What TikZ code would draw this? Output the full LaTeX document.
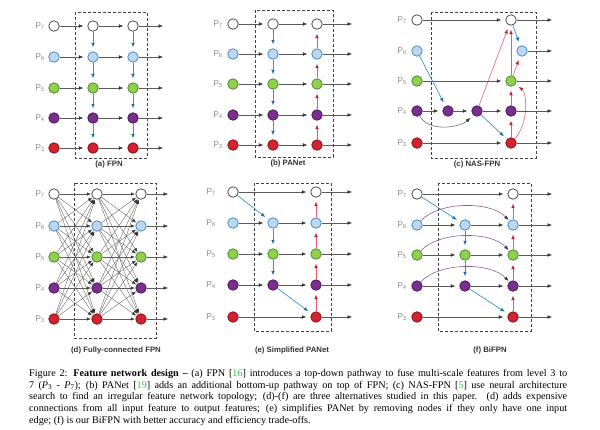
\documentclass[tikz,border=0pt]{standalone}
\usepackage{fontspec}
\setmainfont{Liberation Serif}
\setsansfont{Liberation Sans}
\usetikzlibrary{arrows.meta}

\definecolor{fill7}{HTML}{FFFFFF}\definecolor{line7}{HTML}{4D4D4D}
\definecolor{fill6}{HTML}{BDD7EE}\definecolor{line6}{HTML}{4A8BC4}
\definecolor{fill5}{HTML}{8FD14F}\definecolor{line5}{HTML}{4E8A2E}
\definecolor{fill4}{HTML}{7A2E8E}\definecolor{line4}{HTML}{4A1A5A}
\definecolor{fill3}{HTML}{D42330}\definecolor{line3}{HTML}{8A0F18}
\definecolor{flowgray}{HTML}{5A5A5A}
\definecolor{headgray}{HTML}{333333}
\definecolor{downblue}{HTML}{3A93C8}
\definecolor{headblue}{HTML}{1F6FA8}
\definecolor{upred}{HTML}{E0606E}
\definecolor{headred}{HTML}{C0202E}
\definecolor{skipviolet}{HTML}{8A5A96}
\definecolor{boxgray}{HTML}{404040}
\definecolor{labgray}{HTML}{8C8C8C}
\definecolor{capgray}{HTML}{333333}
\definecolor{citegreen}{HTML}{3DB84A}

\newcommand{\refnum}[1]{[\textcolor{citegreen}{#1}]}

\tikzset{
  lvl/.style={circle, minimum size=10.5pt, inner sep=0pt, line width=0.8pt,
    fill=fill#1, draw=line#1},
  levellab/.style={text=labgray, inner sep=0pt,
    font=\sffamily\fontsize{8.5}{8.5}\selectfont},
  tip/.style={-{Latex[length=4.5pt,width=3.6pt,color=#1]}},
  lateral/.style={draw=flowgray, line width=0.5pt, tip=headgray, shorten >=4pt},
  topdown/.style={draw=downblue, line width=0.7pt, tip=headblue, shorten >=4pt},
  bottomup/.style={draw=upred, line width=0.6pt, tip=headred, shorten >=4pt},
  shortcut/.style={draw=skipviolet, line width=0.6pt, tip=headgray, shorten >=1pt},
  dense/.style={draw=flowgray, line width=0.35pt,
    -{Latex[length=4pt,width=3.2pt,color=headgray]}, shorten >=0.5pt},
  panelbox/.style={draw=boxgray, line width=0.6pt, dash pattern=on 3pt off 2pt},
  panelcap/.style={text=capgray, inner sep=0pt,
    font=\sffamily\bfseries\fontsize{7.8}{8.5}\selectfont},
  capblock/.style={anchor=north west, inner sep=0pt, text width=538pt,
    align=justify, font=\fontsize{10.2}{11.7}\selectfont},
}

\begin{document}
\begin{tikzpicture}[x=1pt, y=-1pt]
\useasboundingbox (0,0) rectangle (600,429);

% (a) FPN
\draw[panelbox] (75,12) rectangle (147,158);
\foreach \l/\y in {7/26,6/57,5/88,4/118,3/148} {
  \node[levellab] (aL\l) at (40,\y) {P\textsubscript{\l}};
  \node[lvl=\l] (a0\l) at (54,\y) {};
  \node[lvl=\l] (a1\l) at (93,\y) {};
  \node[lvl=\l] (a2\l) at (133,\y) {};
  \coordinate (aE\l) at (167,\y);
  \draw[lateral] (a0\l) -- (a1\l);
  \draw[lateral] (a1\l) -- (a2\l);
  \draw[lateral] (a2\l) -- (aE\l);
}
\foreach \u/\d in {7/6,6/5,5/4,4/3} {
  \draw[topdown] (a1\u) -- (a1\d);
  \draw[topdown] (a2\u) -- (a2\d);
}
\node[panelcap] (capa) at (109,164) {(a) FPN};

% (b) PANet
\draw[panelbox] (255,10) rectangle (333,157);
\foreach \l/\y in {7/24,6/54,5/84,4/115,3/145} {
  \node[levellab] (bL\l) at (218,\y) {P\textsubscript{\l}};
  \node[lvl=\l] (b0\l) at (233,\y) {};
  \node[lvl=\l] (b1\l) at (273,\y) {};
  \node[lvl=\l] (b2\l) at (317,\y) {};
  \coordinate (bE\l) at (356,\y);
  \draw[lateral] (b0\l) -- (b1\l);
  \draw[lateral] (b1\l) -- (b2\l);
  \draw[lateral] (b2\l) -- (bE\l);
}
\foreach \u/\d in {7/6,6/5,5/4,4/3} {
  \draw[topdown] (b1\u) -- (b1\d);
  \draw[bottomup] (b2\d) -- (b2\u);
}
\node[panelcap] (capb) at (288,163) {(b) PANet};

% (c) NAS-FPN
\draw[panelbox] (431,12) rectangle (536,158);
\foreach \l/\y in {7/20,6/51,5/81,4/111,3/143} {
  \node[levellab] (cL\l) at (402,\y) {P\textsubscript{\l}};
  \node[lvl=\l] (c0\l) at (417,\y) {};
  \coordinate (cE\l) at (556,\y);
}
\node[lvl=4] (cm1) at (448,111) {};
\node[lvl=4] (cm2) at (477,111) {};
\node[lvl=7] (c27) at (511,20) {};
\node[lvl=6] (c26) at (522,51) {};
\node[lvl=5] (c25) at (511,81) {};
\node[lvl=4] (c24) at (511,111) {};
\node[lvl=3] (c23) at (511,143) {};
\begin{scope}[every path/.append style={shorten >=1pt}]
\draw[lateral] (c07) -- (c27);
\draw[lateral] (c05) -- (c25);
\draw[lateral] (c04) -- (cm1);
\draw[lateral] (cm1) -- (cm2);
\draw[lateral] (cm2) -- (c24);
\draw[lateral] (c03) -- (c23);
\draw[lateral] (c04) .. controls +(12,22) and +(-16,16) .. (cm2);
\draw[topdown] (c06) -- (cm1);
\draw[topdown] (cm2) -- (c23);
\draw[topdown] (c27) -- (c26);
\draw[bottomup] (cm2) -- (c27);
\draw[bottomup] (c23) -- (c24);
\draw[bottomup] (c24) -- (c25);
\draw[bottomup] (c25) -- (c27);
\draw[bottomup] (c25) -- (c26);
\draw[bottomup] (c23) .. controls +(18,-20) and +(16,12) .. (c25);
\end{scope}
\foreach \l in {7,6,5,4,3}
  \draw[lateral] (c2\l) -- (cE\l);
\node[panelcap] (capc) at (477,164) {(c) NAS-FPN};

% (d) Fully-connected FPN
\draw[panelbox] (74,183) rectangle (156,338);
\foreach \l/\y in {7/194,6/226,5/257,4/288,3/319} {
  \node[levellab] (dL\l) at (40,\y) {P\textsubscript{\l}};
  \node[lvl=\l] (d0\l) at (54,\y) {};
  \node[lvl=\l] (d1\l) at (97,\y) {};
  \node[lvl=\l] (d2\l) at (141,\y) {};
  \coordinate (dE\l) at (172,\y);
  \draw[lateral] (d2\l) -- (dE\l);
}
\foreach \i in {7,6,5,4,3}
  \foreach \j in {7,6,5,4,3} {
    \draw[dense] (d0\i) -- (d1\j);
    \draw[dense] (d1\i) -- (d2\j);
  }
\node[panelcap] (capd) at (116,350) {(d) Fully-connected FPN};

% (e) Simplified PANet
\draw[panelbox] (254,183) rectangle (331,331);
\foreach \l/\y in {7/192,6/223,5/254,4/285,3/317} {
  \node[levellab] (eL\l) at (211,\y) {P\textsubscript{\l}};
  \node[lvl=\l] (e0\l) at (233,\y) {};
  \node[lvl=\l] (e2\l) at (316,\y) {};
  \coordinate (eE\l) at (356,\y);
  \draw[lateral] (e2\l) -- (eE\l);
}
\foreach \l/\y in {6/223,5/254,4/285} {
  \node[lvl=\l] (e1\l) at (273,\y) {};
  \draw[lateral] (e0\l) -- (e1\l);
  \draw[lateral] (e1\l) -- (e2\l);
}
\draw[lateral] (e07) -- (e27);
\draw[lateral] (e03) -- (e23);
\draw[topdown] (e07) -- (e16);
\draw[topdown] (e16) -- (e15);
\draw[topdown] (e15) -- (e14);
\draw[topdown] (e14) -- (e23);
\foreach \d/\u in {3/4,4/5,5/6,6/7}
  \draw[bottomup] (e2\d) -- (e2\u);
\node[panelcap] (cape) at (292,350) {(e) Simplified PANet};

% (f) BiFPN
\draw[panelbox] (438,183) rectangle (531,331);
\foreach \l/\y in {7/194,6/225,5/255,4/286,3/317} {
  \node[levellab] (fL\l) at (402,\y) {P\textsubscript{\l}};
  \node[lvl=\l] (f0\l) at (417,\y) {};
  \node[lvl=\l] (f2\l) at (513,\y) {};
  \coordinate (fE\l) at (556,\y);
  \draw[lateral] (f2\l) -- (fE\l);
}
\foreach \l/\y in {6/225,5/255,4/286} {
  \node[lvl=\l] (f1\l) at (465,\y) {};
  \draw[lateral] (f0\l) -- (f1\l);
  \draw[lateral] (f1\l) -- (f2\l);
  \draw[shortcut] (f0\l) .. controls +(22,-24) and +(-22,-24) .. (f2\l);
}
\draw[lateral] (f07) -- (f27);
\draw[lateral] (f03) -- (f23);
\draw[topdown] (f07) -- (f16);
\draw[topdown] (f16) -- (f15);
\draw[topdown] (f15) -- (f14);
\draw[topdown] (f14) -- (f23);
\foreach \d/\u in {3/4,4/5,5/6,6/7}
  \draw[bottomup] (f2\d) -- (f2\u);
\node[panelcap] (capf) at (490,350) {(f) BiFPN};

% caption
\node[capblock] (figcap) at (29,369) {Figure 2: \textbf{Feature network design --} (a) FPN \refnum{16} introduces a top-down pathway to fuse multi-scale features from level 3 to\linebreak
7 (\textit{P}\textsubscript{3} - \textit{P}\textsubscript{7}); (b) PANet \refnum{19} adds an additional bottom-up pathway on top of FPN; (c) NAS-FPN \refnum{5} use neural architecture\linebreak
search to find an irregular feature network topology; (d)-(f) are three alternatives studied in this paper. (d) adds expensive\linebreak
connections from all input feature to output features; (e) simplifies PANet by removing nodes if they only have one input\linebreak
edge; (f) is our BiFPN with better accuracy and efficiency trade-offs.};
\end{tikzpicture}
\end{document}
